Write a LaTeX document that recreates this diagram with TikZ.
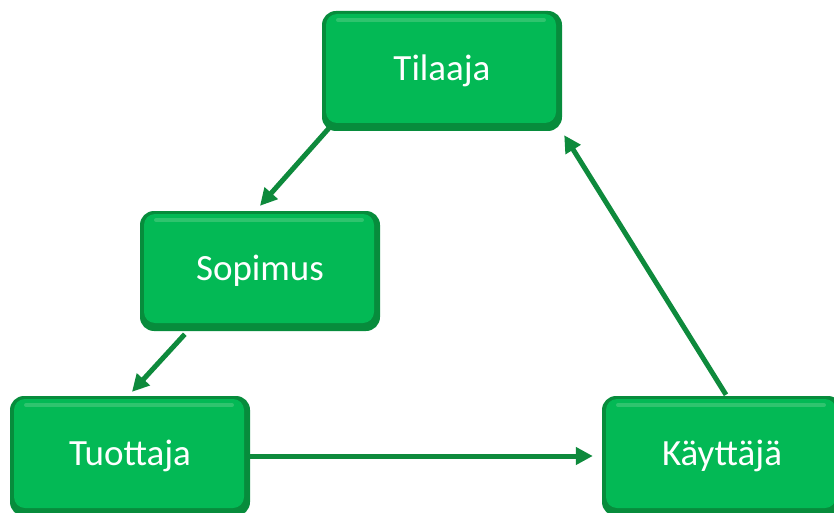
\documentclass[tikz,border=0pt]{standalone}
\usepackage{fontspec}
\setmainfont{Carlito}
\usetikzlibrary{arrows.meta}
\definecolor{boxdark}{HTML}{078C3C}
\definecolor{boxmain}{HTML}{03B955}
\definecolor{boxlight}{HTML}{2FC46E}
\definecolor{arrgreen}{HTML}{0E8A3C}
\tikzset{
  gbox/.style={rounded corners=14pt, fill=boxdark, minimum width=240pt, minimum height=120pt,
    inner sep=0pt, text=white, font=\fontsize{37}{42}\selectfont,
    path picture={
      \fill[boxmain, rounded corners=11pt]
        ([shift={(4pt,-3pt)}]path picture bounding box.north west) rectangle
        ([shift={(-6pt,8pt)}]path picture bounding box.south east);
      \draw[boxlight, line width=4pt, line cap=round]
        ([shift={(16pt,-9pt)}]path picture bounding box.north west) --
        ([shift={(-18pt,-9pt)}]path picture bounding box.north east);
    }},
  arr/.style={draw=arrgreen, line width=5pt, -{Triangle[length=17pt,width=17pt]}}
}
\begin{document}
\begin{tikzpicture}[x=1pt,y=1pt]
\useasboundingbox (0,0) rectangle (834,512);
\clip (0,0) rectangle (834,512);
\node[gbox] (til) at (442,441) {Tilaaja};
\node[gbox] (sop) at (260,241) {Sopimus};
\node[gbox] (tuo) at (130,56) {Tuottaja};
\node[gbox] (kay) at (722,56) {Käyttäjä};
\draw[arr] ([shift={(8pt,4pt)}]til.south west) -- ([shift={(0pt,5pt)}]sop.north);
\draw[arr] ([shift={(45pt,-3pt)}]sop.south west) -- ([shift={(2pt,4pt)}]tuo.north);
\draw[arr] (tuo.east) -- ([xshift=-9pt]kay.west);
\draw[arr] ([shift={(4pt,1pt)}]kay.north) -- ([shift={(2pt,-4pt)}]til.south east);
\end{tikzpicture}
\end{document}
